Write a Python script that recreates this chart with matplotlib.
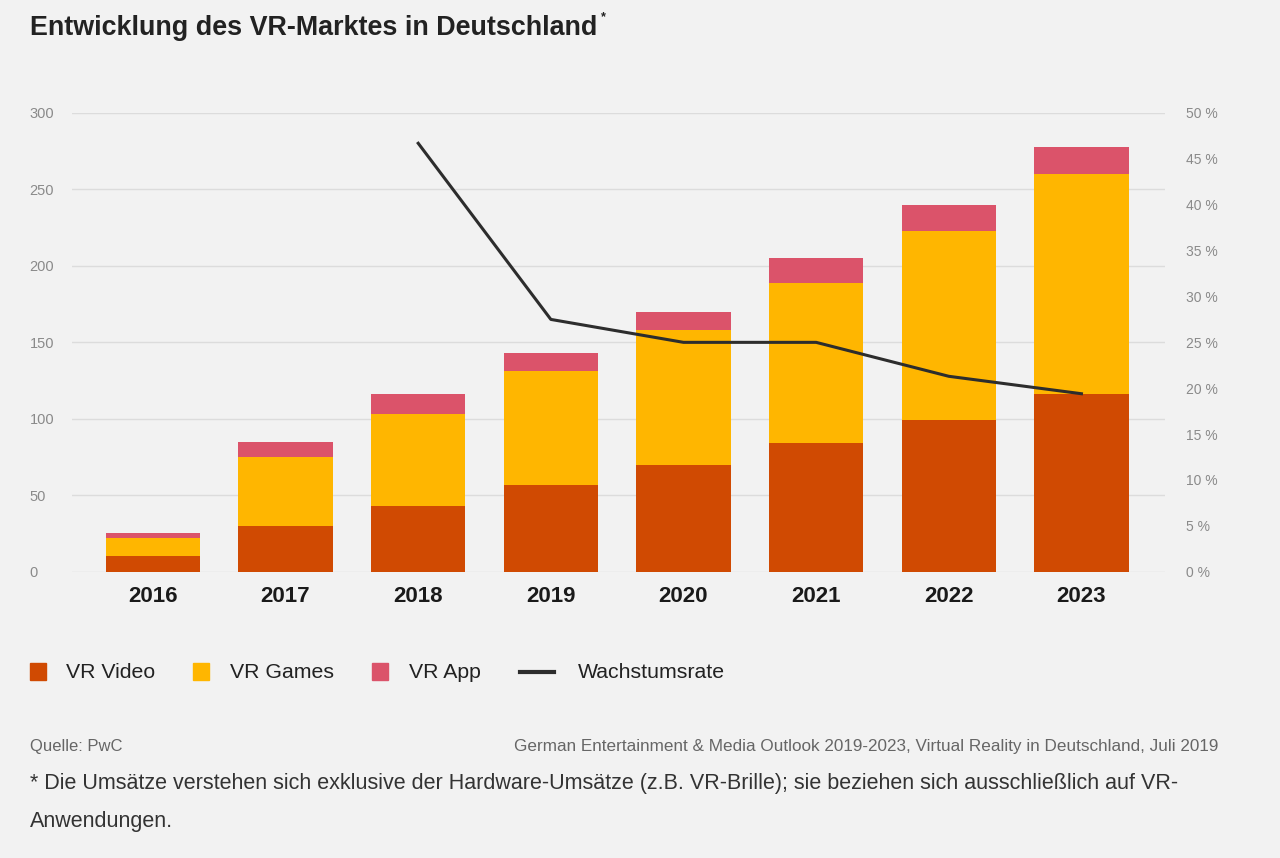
import matplotlib
matplotlib.use("Agg")
import matplotlib.pyplot as plt
from matplotlib.patches import Rectangle
from matplotlib.lines import Line2D
import numpy as np

plt.rcParams['font.family'] = ['Liberation Sans', 'DejaVu Sans']

years = ['2016', '2017', '2018', '2019', '2020', '2021', '2022', '2023']
vr_video = [10, 30, 43, 57, 70, 84, 99, 116]
vr_games = [12, 45, 60, 74, 88, 105, 124, 144]
vr_app = [3.5, 10, 13, 12, 12, 16, 17, 18]
growth_years = ['2018', '2019', '2020', '2021', '2022', '2023']
growth = [46.7, 27.5, 25.0, 25.0, 21.3, 19.4]

left_ticks = [0, 50, 100, 150, 200, 250, 300]
right_ticks = [0, 5, 10, 15, 20, 25, 30, 35, 40, 45, 50]
right_labels = [f"{t} %" for t in right_ticks]

c_video = '#d04a02'
c_games = '#ffb600'
c_app = '#db536a'
c_line = '#2d2d2d'
bg = '#f2f2f2'

W, H = 1280, 858
fig = plt.figure(figsize=(W / 100, H / 100), dpi=100, facecolor=bg)

ax_l, ax_r = 72, 1165
ax_top, ax_bot = 113, 571.7
ax = fig.add_axes([ax_l / W, 1 - ax_bot / H, (ax_r - ax_l) / W, (ax_bot - ax_top) / H])
ax.set_facecolor(bg)

x = np.arange(len(years))
bw = 0.71
video = np.array(vr_video, dtype=float)
games = np.array(vr_games, dtype=float)
app = np.array(vr_app, dtype=float)
ax.bar(x, video, bw, color=c_video, zorder=2)
ax.bar(x, games, bw, bottom=video, color=c_games, zorder=2)
ax.bar(x, app, bw, bottom=video + games, color=c_app, zorder=2)

ax.set_xlim(-0.61, 7.63)
ax.set_ylim(0, 300)
ax.set_yticks(left_ticks)
ax.yaxis.grid(True, color='#dcdcdc', linewidth=1.0, zorder=0)
ax.set_axisbelow(True)
for s in ax.spines.values():
    s.set_visible(False)
ax.tick_params(axis='y', length=0, pad=30.5, labelsize=10.5, labelcolor='#8a8a8a')
for lab in ax.get_yticklabels():
    lab.set_horizontalalignment('left')
ax.set_xticks(x)
ax.set_xticklabels(years, fontsize=16, fontweight='bold', color='#1a1a1a')
ax.tick_params(axis='x', length=0, pad=10)

ax2 = ax.twinx()
ax2.set_ylim(0, 50)
ax2.set_yticks(right_ticks)
ax2.set_yticklabels(right_labels)
ax2.tick_params(axis='y', length=0, pad=15, labelsize=10, labelcolor='#8a8a8a')
for s in ax2.spines.values():
    s.set_visible(False)
gx = [years.index(y) for y in growth_years]
ax2.plot(gx, growth, color=c_line, linewidth=2.2, zorder=5)

# Title
fig.text(30 / W, 1 - 28 / H, 'Entwicklung des VR-Marktes in Deutschland', fontsize=19.4,
         fontweight='bold', color='#222222', ha='left', va='center')
fig.text(601 / W, 1 - 17 / H, '*', fontsize=9, fontweight='bold', color='#222222', ha='left', va='center')

# Legend (manual)
ly = 672
items = [(30, 66, 'VR Video', c_video, 'sq'), (193, 230, 'VR Games', c_games, 'sq'),
         (372, 409, 'VR App', c_app, 'sq'), (520, 578, 'Wachstumsrate', c_line, 'ln')]
for hx, tx, label, col, kind in items:
    if kind == 'sq':
        fig.patches.append(Rectangle((hx / W, 1 - (ly + 8) / H), 16 / W, 17 / H,
                                     transform=fig.transFigure, color=col))
    else:
        fig.lines.append(Line2D([hx / W, (hx + 34) / W], [1 - ly / H, 1 - ly / H],
                                transform=fig.transFigure, color=col, linewidth=3))
    fig.text(tx / W, 1 - ly / H, label, fontsize=15.3, color='#222222', ha='left', va='center')

# Source
fig.text(30 / W, 1 - 746 / H, 'Quelle: PwC', fontsize=12, color='#666666', ha='left', va='center')
fig.text(1218 / W, 1 - 746 / H,
         'German Entertainment & Media Outlook 2019-2023, Virtual Reality in Deutschland, Juli 2019',
         fontsize=12.3, color='#666666', ha='right', va='center')
fig.text(30 / W, 1 - 784 / H,
         '* Die Umsätze verstehen sich exklusive der Hardware-Umsätze (z.B. VR-Brille); sie beziehen sich ausschließlich auf VR-',
         fontsize=15.5, color='#333333', ha='left', va='center')
fig.text(30 / W, 1 - 822 / H, 'Anwendungen.', fontsize=15.5, color='#333333', ha='left', va='center')

fig.savefig('out.png', dpi=100, facecolor=bg)
